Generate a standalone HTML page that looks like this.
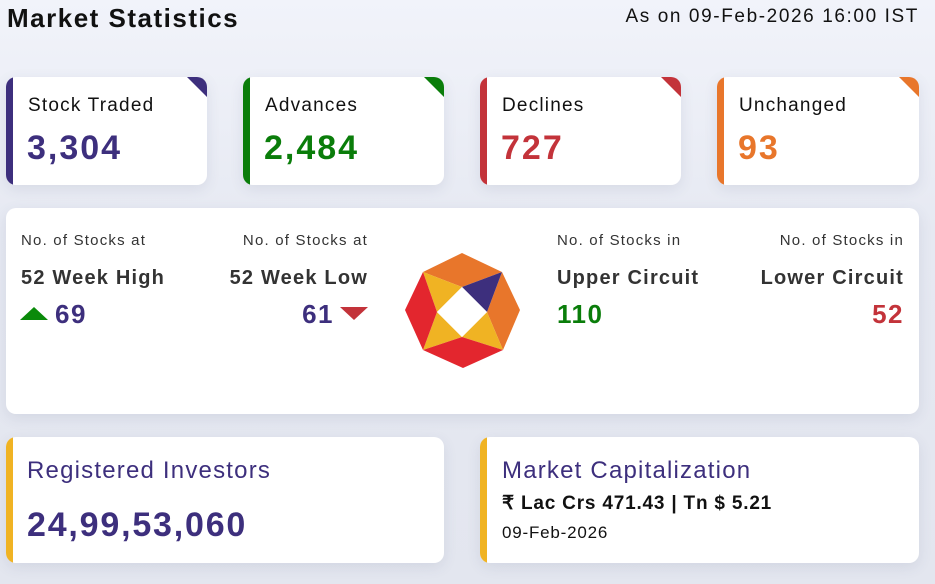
<!DOCTYPE html>
<html><head><meta charset="utf-8"><style>
*{margin:0;padding:0;box-sizing:border-box}
body{width:935px;height:584px;overflow:hidden;background:linear-gradient(#f1f3fa,#e6e9f2 40%,#e3e6ef);font-family:"Liberation Sans",sans-serif;position:relative}
.abs{position:absolute}
.card{position:absolute;background:#fff;border-radius:10px;box-shadow:0 4px 14px rgba(60,70,110,.10);overflow:hidden}
.card .bar{position:absolute;left:0;top:0;bottom:0;width:7px;border-radius:10px 0 0 10px}
.card .tri{position:absolute;right:0;top:0;width:0;height:0;border-left:20px solid transparent}
.lbl{position:absolute;left:22px;top:18px;font-size:19px;color:#111;letter-spacing:1.2px}
.val{position:absolute;left:21px;top:52px;font-size:34px;font-weight:bold;letter-spacing:2px}
.s1{font-size:15px;color:#333;letter-spacing:1.2px}
.s2{font-size:20px;font-weight:bold;color:#333;letter-spacing:1.2px}
.s3{font-size:26px;font-weight:bold;letter-spacing:1.5px}
</style></head><body>
<div class="abs" style="left:7px;top:3px;font-size:26px;font-weight:bold;color:#111;letter-spacing:1.5px">Market Statistics</div>
<div class="abs" style="right:16px;top:6px;font-size:19px;color:#111;letter-spacing:1.6px">As on 09-Feb-2026 16:00 IST</div>

<div class="card" style="left:6px;top:77px;width:201px;height:108px"><div class="bar" style="background:#3d2f7d"></div><div class="tri" style="border-top:20px solid #3d2f7d"></div><div class="lbl">Stock Traded</div><div class="val" style="color:#3d2f7d">3,304</div></div>
<div class="card" style="left:243px;top:77px;width:201px;height:108px"><div class="bar" style="background:#0a7d0a"></div><div class="tri" style="border-top:20px solid #0a7d0a"></div><div class="lbl">Advances</div><div class="val" style="color:#0a7d0a">2,484</div></div>
<div class="card" style="left:480px;top:77px;width:201px;height:108px"><div class="bar" style="background:#c3333a"></div><div class="tri" style="border-top:20px solid #c3333a"></div><div class="lbl">Declines</div><div class="val" style="color:#c3333a">727</div></div>
<div class="card" style="left:717px;top:77px;width:202px;height:108px"><div class="bar" style="background:#e8762b"></div><div class="tri" style="border-top:20px solid #e8762b"></div><div class="lbl">Unchanged</div><div class="val" style="color:#e8762b">93</div></div>

<div class="card" style="left:6px;top:208px;width:913px;height:206px">
 <div class="abs s1" style="left:15px;top:24px">No. of Stocks at</div>
 <div class="abs s2" style="left:15px;top:59px">52 Week High</div>
 <div class="abs" style="left:14px;top:99px;width:0;height:0;border-left:14px solid transparent;border-right:14px solid transparent;border-bottom:13px solid #0a8a0a"></div>
 <div class="abs s3" style="left:49px;top:91px;color:#3d2f7d">69</div>
 <div class="abs s1" style="right:551px;top:24px">No. of Stocks at</div>
 <div class="abs s2" style="right:551px;top:59px">52 Week Low</div>
 <div class="abs s3" style="right:585px;top:91px;color:#3d2f7d">61</div>
 <div class="abs" style="left:334px;top:99px;width:0;height:0;border-left:14px solid transparent;border-right:14px solid transparent;border-top:13px solid #c3333a"></div>
 <svg class="abs" style="left:0;top:0" width="913" height="206" viewBox="6 208 913 206">
  <polygon fill="#e8762b" points="423,272 462,253 502,272 462,287"/>
  <polygon fill="#e8762b" points="502,272 520,310 503,350 487,312"/>
  <polygon fill="#3d2f7d" points="502,272 487,312 462,287"/>
  <polygon fill="#f0b323" points="423,272 462,287 437,312"/>
  <polygon fill="#f0b323" points="487,312 503,350 462,337"/>
  <polygon fill="#f0b323" points="437,312 462,337 423,350"/>
  <polygon fill="#e3262e" points="423,350 462,337 503,350 463,368"/>
  <polygon fill="#e3262e" points="423,272 437,312 423,350 405,310"/>
  <polygon fill="#fff" points="462,287 487,312 462,337 437,312"/>
 </svg>
 <div class="abs s1" style="left:551px;top:24px">No. of Stocks in</div>
 <div class="abs s2" style="left:551px;top:59px">Upper Circuit</div>
 <div class="abs s3" style="left:551px;top:91px;color:#0a7d0a">110</div>
 <div class="abs s1" style="right:15px;top:24px">No. of Stocks in</div>
 <div class="abs s2" style="right:15px;top:59px">Lower Circuit</div>
 <div class="abs s3" style="right:15px;top:91px;color:#c3333a">52</div>
</div>

<div class="card" style="left:6px;top:437px;width:438px;height:126px"><div class="bar" style="background:#f0b323"></div>
 <div class="abs" style="left:21px;top:20px;font-size:24px;color:#3d2f7d;letter-spacing:1.2px">Registered Investors</div>
 <div class="abs" style="left:21px;top:69px;font-size:34px;font-weight:bold;color:#3d2f7d;letter-spacing:1.8px">24,99,53,060</div></div>
<div class="card" style="left:480px;top:437px;width:439px;height:126px"><div class="bar" style="background:#f0b323"></div>
 <div class="abs" style="left:22px;top:20px;font-size:24px;color:#3d2f7d;letter-spacing:1.2px">Market Capitalization</div>
 <div class="abs" style="left:22px;top:55px;font-size:19px;font-weight:bold;color:#111;letter-spacing:0.8px">₹ Lac Crs 471.43 | Tn $ 5.21</div>
 <div class="abs" style="left:22px;top:86px;font-size:17px;color:#111;letter-spacing:0.8px">09-Feb-2026</div></div>
</body></html>
